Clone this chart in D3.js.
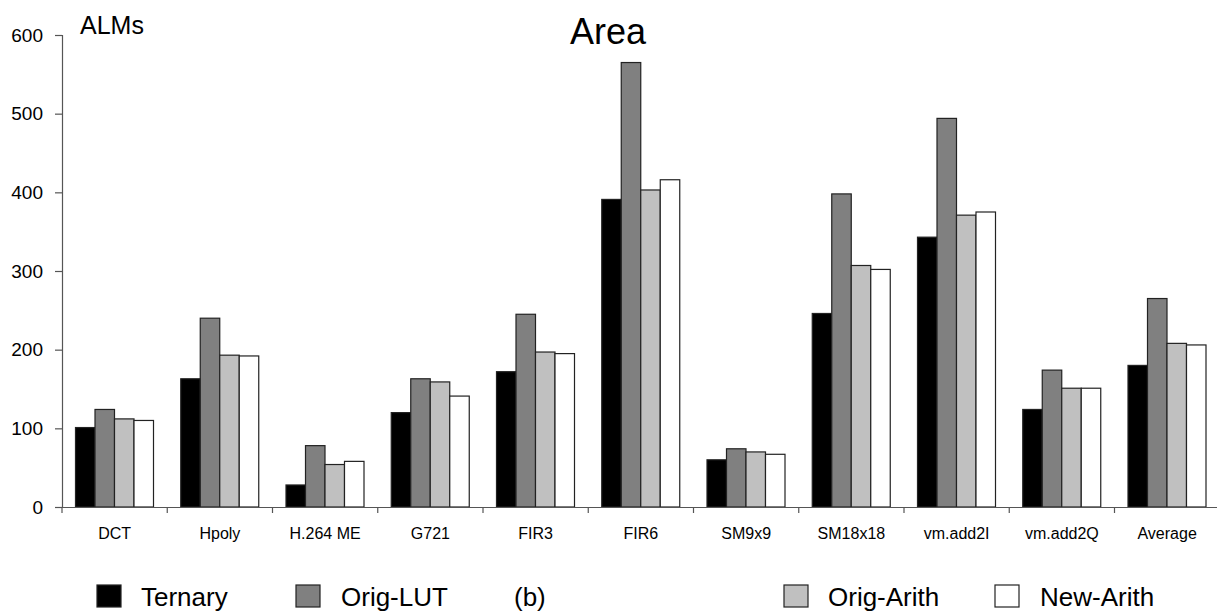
<!DOCTYPE html>
<html><head><meta charset="utf-8">
<script src="https://cdn.jsdelivr.net/npm/d3@7"></script>
<style>body{margin:0;background:#fff}svg{display:block;font-family:"Liberation Sans",Arial,sans-serif}</style>
</head><body>
<svg id="c" width="1217" height="612"></svg>
<script>
const categories = ["DCT","Hpoly","H.264 ME","G721","FIR3","FIR6","SM9x9","SM18x18","vm.add2I","vm.add2Q","Average"];
const seriesNames = ["Ternary","Orig-LUT","Orig-Arith","New-Arith"];
const ternary   = [101,163,28,120,172,391,60,246,343,124,180];
const origLUT   = [124,240,78,163,245,565,74,398,494,174,265];
const origArith = [112,193,54,159,197,403,70,307,371,151,208];
const newArith  = [110,192,58,141,195,416,67,302,375,151,206];
const yTicks = [0,100,200,300,400,500,600];
const colors = ["#000000","#808080","#c0c0c0","#ffffff"];

const series = [ternary, origLUT, origArith, newArith];
const svg = d3.select("#c");
const x0 = 62, bandW = 105.25;
const x = d3.scaleBand().domain(categories).range([x0, x0 + bandW*categories.length]).paddingInner(0).paddingOuter(0);
const xs = d3.scaleBand().domain(seriesNames).range([13.5, 13.5+78]);
const y = d3.scaleLinear().domain([0,600]).range([507,35]);

// bars
categories.forEach((c,i)=>{
  const g = svg.append("g").attr("transform",`translate(${x(c)},0)`);
  g.selectAll("rect").data(series.map((s,k)=>({k, v:s[i]}))).join("rect")
    .attr("x", d=>xs(seriesNames[d.k]))
    .attr("y", d=>y(d.v))
    .attr("width", xs.bandwidth())
    .attr("height", d=>y(0)-y(d.v))
    .attr("fill", d=>colors[d.k])
    .attr("stroke","#222").attr("stroke-width",1.2);
});

// y axis
const ya = svg.append("g").attr("transform",`translate(${x0},0)`)
  .call(d3.axisLeft(y).tickValues(yTicks).tickSize(7).tickPadding(12));
ya.select(".domain").attr("stroke","#555").attr("stroke-width",1.2);
ya.selectAll(".tick line").attr("stroke","#555").attr("stroke-width",1.2);
ya.selectAll("text").attr("font-size",19).attr("fill","#000").attr("font-family","Liberation Sans, Arial, sans-serif");

// x axis
const xa = svg.append("g").attr("transform",`translate(0,${y(0)})`)
  .call(d3.axisBottom(x).tickSize(0).tickPadding(21));
xa.select(".domain").attr("stroke","#555").attr("stroke-width",1.2);
xa.selectAll("text").attr("font-size",16).attr("fill","#000").attr("font-family","Liberation Sans, Arial, sans-serif");
// tick marks at band boundaries
svg.append("g").selectAll("line").data(categories).join("line")
  .attr("x1", d=>x(d)).attr("x2", d=>x(d))
  .attr("y1", y(0)).attr("y2", y(0)+6)
  .attr("stroke","#555").attr("stroke-width",1.2);

// titles
svg.append("text").attr("x",608).attr("y",44).attr("text-anchor","middle").attr("font-size",36).text("Area");
svg.append("text").attr("x",80).attr("y",34).attr("font-size",25).text("ALMs");

// legend
const legend = [
  {name:"Ternary", sx:97, tx:141, k:0},
  {name:"Orig-LUT", sx:296, tx:341, k:1},
  {name:"Orig-Arith", sx:784, tx:828, k:2},
  {name:"New-Arith", sx:995, tx:1040, k:3}
];
const lg = svg.append("g");
legend.forEach(l=>{
  lg.append("rect").attr("x",l.sx).attr("y",585).attr("width",24).attr("height",22)
    .attr("fill",colors[l.k]).attr("stroke","#222").attr("stroke-width",1.2);
  lg.append("text").attr("x",l.tx).attr("y",606).attr("font-size",26).text(l.name);
});
svg.append("text").attr("x",514).attr("y",606).attr("font-size",26).text("(b)");
</script>
</body></html>
